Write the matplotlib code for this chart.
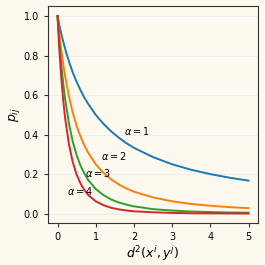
import matplotlib
matplotlib.use("Agg")
import matplotlib.pyplot as plt

# squared distance samples
d2 = [0, 0.05, 0.1, 0.15, 0.2, 0.3, 0.4, 0.5, 0.6, 0.7, 0.8, 1.0, 1.2, 1.4,
      1.6, 1.8, 2.0, 2.5, 3.0, 3.5, 4.0, 4.5, 5.0]

p_a1 = [1, 0.952, 0.909, 0.870, 0.833, 0.769, 0.714, 0.667, 0.625, 0.588, 0.556,
        0.500, 0.455, 0.417, 0.385, 0.357, 0.333, 0.286, 0.250, 0.222, 0.200, 0.182, 0.167]
p_a2 = [1, 0.907, 0.826, 0.756, 0.694, 0.592, 0.510, 0.444, 0.391, 0.346, 0.309,
        0.250, 0.207, 0.174, 0.148, 0.128, 0.111, 0.082, 0.0625, 0.049, 0.040, 0.033, 0.028]
p_a3 = [1, 0.864, 0.751, 0.658, 0.579, 0.455, 0.364, 0.296, 0.244, 0.204, 0.171,
        0.125, 0.094, 0.072, 0.057, 0.046, 0.037, 0.023, 0.016, 0.011, 0.008, 0.006, 0.005]
p_a4 = [1, 0.823, 0.683, 0.572, 0.482, 0.350, 0.260, 0.198, 0.153, 0.120, 0.095,
        0.0625, 0.043, 0.030, 0.022, 0.016, 0.012, 0.007, 0.004, 0.002, 0.0016, 0.001, 0.0008]

labels = [r"$\alpha=1$", r"$\alpha=2$", r"$\alpha=3$", r"$\alpha=4$"]
label_pos = [(1.75, 0.42), (1.15, 0.29), (0.71, 0.205), (0.26, 0.115)]

bg = "#fdf9ee"
fig, ax = plt.subplots(figsize=(2.65, 2.65), dpi=100, facecolor=bg)
ax.set_facecolor(bg)

for ys in [p_a1, p_a2, p_a3, p_a4]:
    ax.plot(d2, ys, lw=1.4)

for txt, (x, y) in zip(labels, label_pos):
    ax.text(x, y, txt, fontsize=7, va="center", ha="left")

ax.set_xticks([0, 1, 2, 3, 4, 5])
ax.set_yticks([0.0, 0.2, 0.4, 0.6, 0.8, 1.0])
ax.tick_params(labelsize=7, length=3, color="#333333")
ax.yaxis.grid(True, color="#e8ecf2", lw=0.6)
ax.set_axisbelow(True)
for s in ax.spines.values():
    s.set_color("#333333")

ax.set_xlabel(r"$d^2(x^i, y^j)$", fontsize=9, labelpad=1)
ax.set_ylabel(r"$p_{ij}$", fontsize=9, labelpad=1)

fig.subplots_adjust(left=0.181, right=0.974, top=0.977, bottom=0.157)
fig.savefig("out.png", facecolor=bg)
